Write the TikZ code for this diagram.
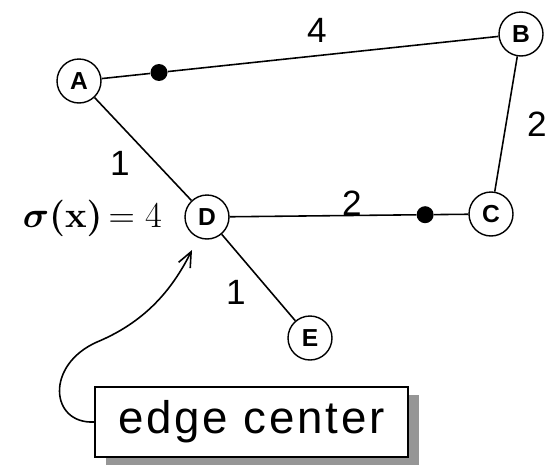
\documentclass[tikz,border=0pt]{standalone}
\usepackage{amsmath, amssymb}
\usepackage{fontspec}
\setmainfont{Liberation Sans}
\usepackage{xcolor}
\usepackage{tikz}
\usetikzlibrary{arrows.meta, positioning, calc, shadows}
\definecolor{shadowgray}{RGB}{150, 150, 150}

\begin{document}
\begin{tikzpicture}[
  x=0.02cm, y=-0.02cm,
  every node/.style={font=\fontsize{20}{24}\selectfont},
  vertex/.style={draw, circle, line width=0.8pt, minimum size=0.88cm, inner sep=0pt, font=\fontsize{14}{16}\selectfont\bfseries},
  center/.style={circle, fill=black, minimum size=0.34cm, inner sep=0pt},
  edge/.style={line width=0.9pt},
  weight/.style={inner sep=1pt},
  callout/.style={draw, line width=1.1pt, fill=white, minimum width=6.26cm, minimum height=1.4cm, font=\fontsize{26}{30}\selectfont\addfontfeatures{LetterSpace=6},
    drop shadow={shadow xshift=0.22cm, shadow yshift=-0.16cm, fill=shadowgray, opacity=1}},
  pointer/.style={-{Straight Barb[length=3mm, width=2.6mm]}, line width=0.9pt}
]
  \useasboundingbox (0,0) rectangle (550,467);

  % Knoten
  \node[vertex] (A) at (79, 81) {A};
  \node[vertex] (B) at (521, 34) {B};
  \node[vertex] (C) at (491, 214) {C};
  \node[vertex] (D) at (207, 217) {D};
  \node[vertex] (E) at (310, 338) {E};

  % Kantenmittelpunkte
  \node[center] (mAB) at ($(A)!0.181!(B)$) {};
  \node[center] (mDC) at ($(D)!0.768!(C)$) {};

  \draw[edge] (A) -- (mAB) -- (B);
  \draw[edge] (B) -- (C);
  \draw[edge] (A) -- (D);
  \draw[edge] (D) -- (mDC) -- (C);
  \draw[edge] (D) -- (E);

  % Gewichte
  \node[weight] (wAB) at (317, 30) {4};
  \node[weight] (wBC) at (537, 124) {2};
  \node[weight] (wAD) at (120, 163) {1};
  \node[weight] (wDC) at (352, 203) {2};
  \node[weight] (wDE) at (236, 292) {1};

  \node[anchor=east, font=\fontsize{21}{25}\selectfont] (sig) at (168, 218) {{\boldmath$\sigma(\mathbf{x})$}$\,=4$};

  % Beschriftung
  \node[callout] (ec) at (251.5, 422) {edge center};
  \coordinate (tip) at (192, 250);
  \draw[pointer] (ec.west) .. controls (50, 424) and (45, 365) .. (97, 342)
    .. controls (145, 322) and (172, 290) .. (tip);

\end{tikzpicture}
\end{document}
